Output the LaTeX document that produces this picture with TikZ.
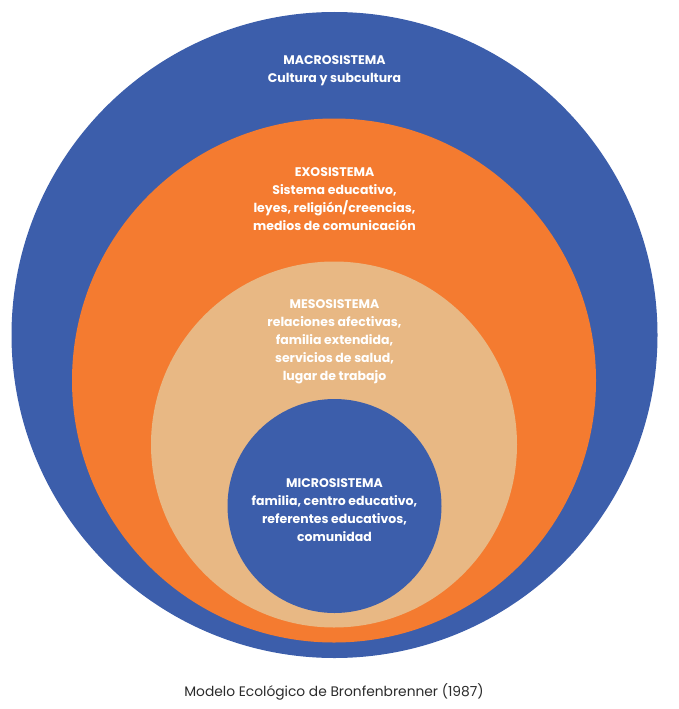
\documentclass[tikz,border=0pt]{standalone}
\usepackage{fontspec}
\setmainfont{Poppins}
\usepackage{tikz}
\usetikzlibrary{positioning}
\definecolor{macroblue}{HTML}{3C5EAB}
\definecolor{exoorange}{HTML}{F47B30}
\definecolor{mesotan}{HTML}{E8B884}
\definecolor{captiongray}{HTML}{2B2B2B}

\begin{document}
\begin{tikzpicture}[x=1pt,y=-1pt,
    label/.style={text=white,align=center,font=\fontsize{12.5}{18}\selectfont\bfseries,inner sep=0pt}]
    \useasboundingbox (0,0) rectangle (679,709);
    \fill[macroblue](334.5,335) circle (323);
    \fill[exoorange](334,380.5) circle (262);
    \fill[mesotan](334,444.5) circle (183);
    \fill[macroblue](334.5,506) circle (107);
    \node[label] (macro) at (334.5,71){MACROSISTEMA\\Cultura y subcultura};
    \node[label] (exo) at (334.5,199){EXOSISTEMA\\Sistema educativo,\\leyes, religión/creencias,\\medios de comunicación};
    \node[label] (meso) at (334.5,342){MESOSISTEMA\\relaciones afectivas,\\familia extendida,\\servicios de salud,\\lugar de trabajo};
    \node[label] (micro) at (334.5,510){MICROSISTEMA\\familia, centro educativo,\\referentes educativos,\\comunidad};
    \node[text=captiongray,font=\fontsize{13.8}{16}\selectfont,inner sep=0pt] (caption) at (334,692){Modelo Ecológico de Bronfenbrenner (1987)};
\end{tikzpicture}
\end{document}
